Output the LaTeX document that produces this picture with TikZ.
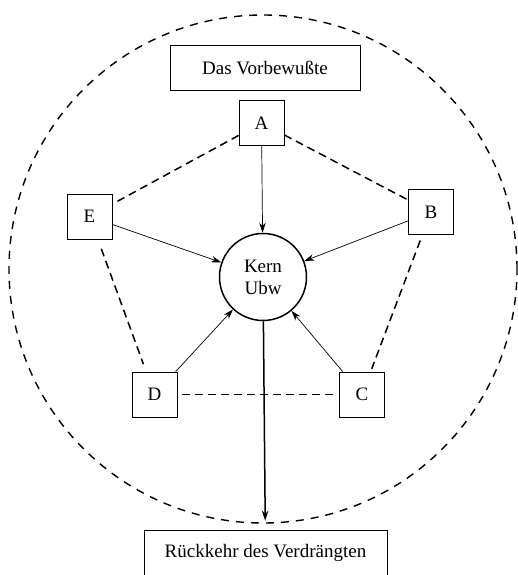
\documentclass[tikz,border=0pt]{standalone}
\usepackage{fontspec}
\setmainfont{Liberation Serif}
\newcommand\bSize{45pt}
\newcommand\kSize{87pt}
\newcommand\tFont{\fontsize{19}{22}\selectfont}
\usetikzlibrary{arrows.meta}
\tikzstyle{block} = [rectangle, minimum width=\bSize, minimum height=\bSize, text centered, draw=black, line width=0.7pt, font=\tFont]
\tikzstyle{title} = [rectangle, minimum height=\bSize, text centered, draw=black, line width=0.7pt, font=\tFont]
\tikzstyle{kern} = [circle, minimum size=\kSize, align=center, draw=black, line width=1.5pt, font=\tFont]
\tikzstyle{arrow} = [line width=0.7pt,->,>={Stealth[length=10pt,width=6.5pt]}]
\tikzstyle{link} = [line width=1.5pt, dash pattern=on 8pt off 5pt]
\tikzstyle{ring} = [line width=1.4pt, dash pattern=on 8pt off 7pt]

\begin{document}
\begin{tikzpicture} [x=1pt, y=-1pt]
\useasboundingbox (0,0) rectangle (517,575);
\draw [ring] (263,269) circle (254pt);

\node (vbw) [title, minimum width=190pt] at (265,67.5) {Das Vorbewußte};
\node (A) [block] at (261.5,123) {A};
\node (B) [block] at (431,212) {B};
\node (C) [block] at (362,394.5) {C};
\node (D) [block] at (154.5,394.5) {D};
\node (E) [block] at (89.5,216.5) {E};
\node (kern) [kern] at (263,277) {Kern\\Ubw};
\node (rueck) [title, minimum width=243pt] at (265.5,552.5) {Rückkehr des Verdrängten};

\draw [link] (A) -- (B);
\draw [link, shorten <=6pt, shorten >=3pt] (B) -- (C);
\draw [link, shorten <=5pt, shorten >=5pt] (D) -- (C);
\draw [link, shorten <=10pt, shorten >=8pt] (E) -- (D);
\draw [link] (A) -- (E);

\draw [arrow] (A) -- (kern);
\draw [arrow] (B) -- (kern);
\draw [arrow] (C) -- (kern);
\draw [arrow] (D) -- (kern);
\draw [arrow] (E) -- (kern);
\draw [arrow, line width=1.5pt, shorten >=9pt] (kern) -- (rueck);
\end{tikzpicture}
\end{document}
